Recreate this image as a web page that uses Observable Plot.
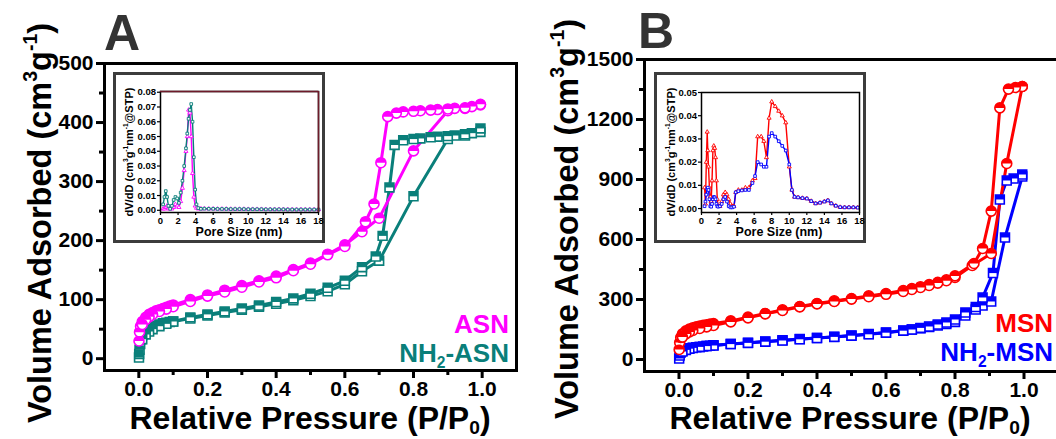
<!DOCTYPE html>
<html><head><meta charset="utf-8">
<script src="https://cdn.jsdelivr.net/npm/d3@7"></script>
<script src="https://cdn.jsdelivr.net/npm/@observablehq/plot@0.6"></script>
<style>
html,body{margin:0;padding:0;background:#fff;overflow:hidden}
#root{position:relative;width:1056px;height:439px;overflow:hidden;background:#fff}
#root svg{position:absolute}
.box{position:absolute;box-sizing:border-box;border:3px solid #3c3c3c;background:#fff}
</style></head><body><div id="root"></div>
<script>
// ---------- tick values ----------
const pressureTicks = [0, 0.2, 0.4, 0.6, 0.8, 1.0];
const pressureMinor = [0.1, 0.3, 0.5, 0.7, 0.9];
const volumeTicksA = [0, 100, 200, 300, 400, 500];
const volumeMinorA = [50, 150, 250, 350, 450];
const volumeTicksB = [0, 300, 600, 900, 1200, 1500];
const volumeMinorB = [150, 450, 750, 1050, 1350];
const poreTicks = [0, 2, 4, 6, 8, 10, 12, 14, 16, 18];
const psdTicksA = [0, 0.01, 0.02, 0.03, 0.04, 0.05, 0.06, 0.07, 0.08];
const psdTicksB = [0, 0.01, 0.02, 0.03, 0.04, 0.05];

// ---------- Panel A isotherms ----------
const asnAdsP = [0.0005,0.002,0.005,0.01,0.02,0.03,0.04,0.05,0.06,0.07,0.08,0.09,0.1,0.15,0.2,0.25,0.3,0.35,0.4,0.45,0.5,0.55,0.6,0.65,0.7,0.8,0.9,0.95,0.995];
const asnAdsV = [30,45,55,63,70,75,78,81,83,85,87,89,91,100,108,116,124,132,140,151,162,177,193,215,238,352,420,424,430];
const asnDesP = [0.995,0.97,0.95,0.92,0.9,0.87,0.85,0.82,0.8,0.77,0.75,0.725,0.705,0.685,0.66,0.6,0.55,0.5,0.45,0.4,0.35,0.3,0.25,0.2,0.15,0.1,0.08,0.06,0.04,0.03,0.02,0.01];
const asnDesV = [431,427,425,424,423,422,421,420,419,418,416,410,332,262,232,190,176,160,149,137,130,121,113,106,97,88,84,80,75,71,66,58];
const nasnAdsP = [0.0005,0.001,0.002,0.004,0.007,0.01,0.02,0.03,0.04,0.05,0.06,0.07,0.08,0.09,0.1,0.15,0.2,0.25,0.3,0.35,0.4,0.45,0.5,0.55,0.6,0.65,0.7,0.8,0.9,0.95,0.995];
const nasnAdsV = [2,8,15,25,33,40,47,51,54,56,58,60,61,62,63,68,73,78,83,88,93,99,106,114,126,148,166,275,372,378,384];
const nasnDesP = [0.995,0.97,0.95,0.92,0.9,0.87,0.85,0.82,0.8,0.77,0.745,0.73,0.71,0.69,0.65,0.6,0.55,0.5,0.45,0.4,0.35,0.3,0.25,0.2,0.15,0.1,0.08,0.06,0.04,0.03,0.02,0.01];
const nasnDesV = [390,382,380,378,377,376,375,373,372,370,362,290,208,173,155,132,120,110,102,96,90,85,80,75,70,63,59,55,50,46,41,33];

// ---------- Panel B isotherms ----------
const msnAdsP = [0.0005,0.002,0.005,0.01,0.02,0.03,0.04,0.05,0.06,0.07,0.08,0.09,0.1,0.15,0.2,0.25,0.3,0.35,0.4,0.45,0.5,0.55,0.6,0.65,0.675,0.7,0.725,0.75,0.775,0.8,0.85,0.905,0.95,0.995];
const msnAdsV = [50,85,110,128,143,152,158,163,167,171,174,177,180,193,212,230,248,265,280,293,305,318,330,345,355,364,375,386,398,410,470,530,980,1365];
const msnDesP = [0.995,0.975,0.955,0.93,0.905,0.88,0.855,0.8,0.775,0.75,0.725,0.7,0.675,0.65,0.6,0.55,0.5,0.45,0.4,0.35,0.3,0.25,0.2,0.15,0.1,0.08,0.06,0.04,0.03,0.02,0.01];
const msnDesV = [1365,1360,1352,1258,742,555,480,418,394,382,370,360,350,340,326,314,302,290,278,263,245,228,208,188,170,163,155,145,138,128,112];
const nmsnAdsP = [0.0005,0.002,0.005,0.01,0.02,0.03,0.04,0.05,0.06,0.07,0.08,0.09,0.1,0.15,0.2,0.25,0.3,0.35,0.4,0.45,0.5,0.55,0.6,0.65,0.675,0.7,0.725,0.75,0.775,0.8,0.83,0.86,0.88,0.905,0.945,0.995];
const nmsnAdsV = [5,20,35,45,52,56,59,61,63,65,67,69,71,77,84,90,96,102,108,114,120,127,135,145,150,156,163,170,178,188,220,250,270,290,610,915];
const nmsnDesP = [0.995,0.97,0.95,0.93,0.91,0.88,0.86,0.83,0.8,0.775,0.75,0.725,0.7,0.675,0.65,0.6,0.55,0.5,0.45,0.4,0.35,0.3,0.25,0.2,0.15,0.1,0.08,0.06,0.04,0.03,0.02,0.01];
const nmsnDesV = [925,905,895,800,432,310,262,235,200,185,175,165,158,150,144,134,126,119,113,107,101,95,89,83,77,70,67,63,58,54,48,40];

// ---------- Inset A pore size distribution ----------
const poreA = [0.3,0.45,0.6,0.75,0.9,1.1,1.3,1.5,1.7,1.9,2.1,2.3,2.5,2.7,2.9,3.05,3.2,3.35,3.5,3.65,3.8,3.95,4.1,4.3,4.6,5.0,5.5,6.0,6.5,7.0,7.5,8.0,8.5,9.0,9.5,10.0,10.5,11.0,11.5,12.0,12.5,13.0,13.5,14.0,14.5,15.0,15.5,16.0,16.5,17.0,17.5,18.0];
const psdASN = [0.001,0.001,0.002,0.003,0.001,0.001,0.001,0.002,0.004,0.003,0.002,0.006,0.015,0.027,0.040,0.050,0.068,0.066,0.050,0.025,0.009,0.003,0.0015,0.001,0.001,
  0.0011,0.0010,0.0010,0.0009,0.0009,0.0009,0.0008,0.0008,0.0008,0.0008,0.0007,0.0007,0.0007,0.0007,0.0006,0.0006,0.0006,0.0006,0.0006,0.0005,0.0005,0.0005,0.0005,0.0005,0.0005,0.0005,0.0005];
const psdNASN = [0.004,0.009,0.013,0.009,0.003,0.001,0.003,0.007,0.009,0.008,0.005,0.012,0.020,0.030,0.042,0.052,0.062,0.068,0.072,0.060,0.036,0.014,0.004,0.0015,0.001,
  0.0011,0.0010,0.0010,0.0009,0.0009,0.0009,0.0008,0.0008,0.0008,0.0008,0.0007,0.0007,0.0007,0.0007,0.0006,0.0006,0.0006,0.0006,0.0006,0.0005,0.0005,0.0005,0.0005,0.0005,0.0005,0.0005,0.0005];

// ---------- Inset B pore size distribution ----------
const poreB = [0.35,0.45,0.55,0.65,0.72,0.8,0.9,1.0,1.1,1.2,1.3,1.4,1.5,1.6,1.7,1.8,1.9,2.1,2.3,2.5,2.7,2.9,3.1,3.3,3.5,3.7,3.9,4.2,4.6,5.0,5.4,5.8,6.1,6.4,6.8,7.1,7.4,7.7,8.0,8.4,8.8,9.2,9.6,10.0,10.3,10.6,11.0,11.5,12.0,12.5,13.0,13.5,14.0,14.4,14.8,15.3,15.8,16.3,16.8,17.3,17.8];
const psdMSN = [0.009,0.002,0.020,0.033,0.025,0.018,0.009,0.005,0.003,0.012,0.025,0.027,0.026,0.022,0.012,0.004,0.001,0.001,0.003,0.006,0.007,0.006,0.004,0.002,0.001,0.001,0.007,0.008,0.008,0.009,0.009,0.012,0.013,0.031,0.031,0.029,0.022,0.039,0.046,0.044,0.042,0.040,0.037,0.018,0.008,0.005,0.0048,0.0045,0.0043,0.0032,0.0022,0.0025,0.003,0.0035,0.0022,0.0012,0.0006,0.0005,0.0005,0.0005,0.0004];
const psdNMSN = [0.001,0.003,0.006,0.0085,0.009,0.008,0.004,0.001,0.0008,0.002,0.004,0.005,0.0048,0.004,0.002,0.001,0.0008,0.001,0.002,0.004,0.005,0.003,0.001,0.0005,0.0005,0.0008,0.007,0.0075,0.0078,0.008,0.008,0.011,0.014,0.020,0.019,0.018,0.018,0.031,0.0325,0.031,0.029,0.027,0.025,0.019,0.008,0.005,0.0048,0.0045,0.0043,0.0032,0.0022,0.0025,0.003,0.0035,0.0022,0.0012,0.0006,0.0005,0.0005,0.0005,0.0004];

// ---------- colours ----------
const cMag = "#ff00ff", cTeal = "#0a7f7a", cRed = "#ff0000", cBlue = "#0000ff";

// ---------- helpers ----------
const pairs = (xs, ys) => xs.map((x, i) => ({x, y: ys[i]}));
const FONT = "'Liberation Sans', Arial, Helvetica, sans-serif";
const halfCircle = {draw(ctx, size) { const r = Math.sqrt(size / Math.PI); ctx.moveTo(r, 0); ctx.arc(0, 0, r, 0, Math.PI, true); ctx.closePath(); }};
const halfSquare = {draw(ctx, size) { const s = Math.sqrt(size) / 2; ctx.rect(-s, -s, 2 * s, s); }};

function isoMarks(data, color, shape) {
  const full = shape === "circle" ? "circle" : "square";
  const half = shape === "circle" ? halfCircle : halfSquare;
  return [
    Plot.dot(data, {x: "x", y: "y", r: 5, symbol: full, fill: "white", stroke: color, strokeWidth: 1.6}),
    Plot.dot(data, {x: "x", y: "y", r: 5, symbol: half, fill: color, stroke: "none"})
  ];
}

function mainChart(cfg) {
  const lines = cfg.series.map(s => Plot.line(s.data, {x: "x", y: "y", stroke: s.color, strokeWidth: 3}));
  const dots = cfg.series.flatMap(s => isoMarks(s.data, s.color, s.shape));
  const svg = Plot.plot({
    width: cfg.width, height: 439,
    marginLeft: cfg.mL, marginRight: cfg.mR, marginTop: cfg.mT, marginBottom: cfg.mB,
    x: {domain: [-0.1, 1.1]}, y: {domain: cfg.yDomain},
    style: {fontFamily: FONT, fontSize: "21px", fontWeight: "bold", color: "black", background: "transparent", overflow: "visible"},
    marks: [
      Plot.axisX(pressureTicks, {tickSize: 8, tickPadding: 3, strokeWidth: 3, tickFormat: d => d.toFixed(1), label: null}),
      Plot.axisX(pressureMinor, {tickSize: 5, strokeWidth: 3, tickFormat: () => "", label: null}),
      Plot.axisY(cfg.yTicks, {tickSize: 8, tickPadding: 3, strokeWidth: 3, tickFormat: d => String(d), label: null}),
      Plot.axisY(cfg.yMinor, {tickSize: 5, strokeWidth: 3, tickFormat: () => "", label: null}),
      ...lines, ...dots,
      Plot.frame({stroke: "black", strokeWidth: 3})
    ]
  });
  svg.style.left = cfg.left + "px"; svg.style.top = "0px";
  return svg;
}

function insetChart(cfg) {
  const marks = [];
  for (const s of cfg.series) {
    marks.push(Plot.line(s.data, {x: "x", y: "y", stroke: s.color, strokeWidth: 1.4}));
  }
  for (const s of cfg.series) {
    marks.push(Plot.dot(s.data, {x: "x", y: "y", r: 1.5, symbol: s.symbol, fill: "white", stroke: s.color, strokeWidth: 0.9}));
  }
  const svg = Plot.plot({
    width: 212, height: 171,
    marginLeft: 47, marginRight: 7, marginTop: cfg.mT, marginBottom: cfg.mB,
    x: {domain: [0, 18]}, y: {domain: cfg.yDomain},
    style: {fontFamily: FONT, fontSize: "9.5px", fontWeight: "bold", color: "black", background: "transparent", overflow: "visible"},
    marks: [
      Plot.axisX(poreTicks, {tickSize: 3, tickPadding: 2, strokeWidth: 1.2, tickFormat: d => String(d), label: null}),
      Plot.axisY(cfg.yTicks, {tickSize: 3, tickPadding: 1.5, strokeWidth: 1.2, tickFormat: d => d.toFixed(2), label: null}),
      ...marks,
      Plot.frame({stroke: "black", strokeWidth: 1.5}),
      ...(cfg.topRight ? [Plot.ruleY([cfg.yDomain[1]], {stroke: cfg.topRight, strokeWidth: 1.5}), Plot.ruleX([18], {stroke: cfg.topRight, strokeWidth: 1.5})] : [])
    ]
  });
  svg.style.left = cfg.left + "px"; svg.style.top = "72px";
  return svg;
}

const root = document.getElementById("root");

root.appendChild(mainChart({
  left: 0, width: 530, mL: 104, mR: 14, mT: 63, mB: 69, yDomain: [-20, 500],
  yTicks: volumeTicksA, yMinor: volumeMinorA,
  series: [
    {data: pairs(nasnAdsP, nasnAdsV), color: cTeal, shape: "square"},
    {data: pairs(nasnDesP, nasnDesV), color: cTeal, shape: "square"},
    {data: pairs(asnAdsP, asnAdsV), color: cMag, shape: "circle"},
    {data: pairs(asnDesP, asnDesV), color: cMag, shape: "circle"}
  ]
}));
root.appendChild(mainChart({
  left: 530, width: 560, mL: 114, mR: 32, mT: 59, mB: 68, yDomain: [-60, 1500],
  yTicks: volumeTicksB, yMinor: volumeMinorB,
  series: [
    {data: pairs(nmsnAdsP, nmsnAdsV), color: cBlue, shape: "square"},
    {data: pairs(nmsnDesP, nmsnDesV), color: cBlue, shape: "square"},
    {data: pairs(msnAdsP, msnAdsV), color: cRed, shape: "circle"},
    {data: pairs(msnDesP, msnDesV), color: cRed, shape: "circle"}
  ]
}));

// inset boxes
for (const bx of [113, 654]) {
  const d = document.createElement("div");
  d.className = "box";
  Object.assign(d.style, {left: bx + "px", top: "72px", width: "212px", height: "171px"});
  root.appendChild(d);
}
root.appendChild(insetChart({
  left: 113, mT: 19, mB: 31, yDomain: [-0.0015, 0.0805], yTicks: psdTicksA, topRight: "#6e1b2a",
  series: [
    {data: pairs(poreA, psdASN), color: cMag, symbol: "triangle"},
    {data: pairs(poreA, psdNASN), color: cTeal, symbol: "square"}
  ]
}));
root.appendChild(insetChart({
  left: 654, mT: 20, mB: 31, yDomain: [-0.0017, 0.05], yTicks: psdTicksB,
  series: [
    {data: pairs(poreB, psdMSN), color: cRed, symbol: "triangle"},
    {data: pairs(poreB, psdNMSN), color: cBlue, symbol: "square"}
  ]
}));

// ---------- text overlay ----------
const NS = "http://www.w3.org/2000/svg";
const over = document.createElementNS(NS, "svg");
over.setAttribute("width", 1056); over.setAttribute("height", 439);
over.style.left = "0px"; over.style.top = "0px"; over.style.overflow = "visible";
root.appendChild(over);

// parts: array of [text, kind] kind in "n","sup","sub"
function label(parts, x, y, {size, anchor = "middle", fill = "black", rotate = 0, subShift = 0.22}) {
  const t = document.createElementNS(NS, "text");
  t.setAttribute("x", x); t.setAttribute("y", y);
  t.setAttribute("text-anchor", anchor);
  t.setAttribute("font-family", FONT);
  t.setAttribute("font-weight", "bold");
  t.setAttribute("font-size", size);
  t.setAttribute("fill", fill);
  if (rotate) t.setAttribute("transform", `rotate(${rotate},${x},${y})`);
  let cur = 0;
  for (const [txt, kind] of parts) {
    const ts = document.createElementNS(NS, "tspan");
    const target = kind === "sup" ? -0.42 * size : kind === "sub" ? subShift * size : 0;
    ts.setAttribute("dy", target - cur);
    cur = target;
    if (kind !== "n") ts.setAttribute("font-size", 0.6 * size);
    ts.textContent = txt;
    t.appendChild(ts);
  }
  over.appendChild(t);
}

const yTitle = [["Volume Adsorbed (cm", "n"], ["3", "sup"], ["g", "n"], ["-1", "sup"], [")", "n"]];
const xTitle = [["Relative Pressure (P/P", "n"], ["0", "sub"], [")", "n"]];
const insetY = [["dV/dD (cm", "n"], ["3", "sup"], ["g", "n"], ["-1", "sup"], ["nm", "n"], ["-1", "sup"], ["@STP)", "n"]];

label([["A", "n"]], 104, 50, {size: 50, anchor: "start", fill: "#333"});
label([["B", "n"]], 638, 48, {size: 50, anchor: "start", fill: "#333"});
label(yTitle, 51, 223, {size: 32.5, rotate: -90});
label(yTitle, 578, 219, {size: 32.5, rotate: -90});
label(xTitle, 310, 429, {size: 32, subShift: 0.15});
label(xTitle, 850, 429, {size: 32, subShift: 0.15});
label([["ASN", "n"]], 509, 333, {size: 26, anchor: "end", fill: cMag});
label([["NH", "n"], ["2", "sub"], ["-ASN", "n"]], 509, 362, {size: 26, anchor: "end", fill: cTeal});
label([["MSN", "n"]], 1053, 332, {size: 26, anchor: "end", fill: cRed});
label([["NH", "n"], ["2", "sub"], ["-MSN", "n"]], 1053, 361, {size: 26, anchor: "end", fill: cBlue});
label([["Pore Size (nm)", "n"]], 239, 236, {size: 12.5});
label([["Pore Size (nm)", "n"]], 779, 236, {size: 12.5});
label(insetY, 133, 152, {size: 11, rotate: -90});
label(insetY, 675, 152, {size: 11, rotate: -90});
</script></body></html>
